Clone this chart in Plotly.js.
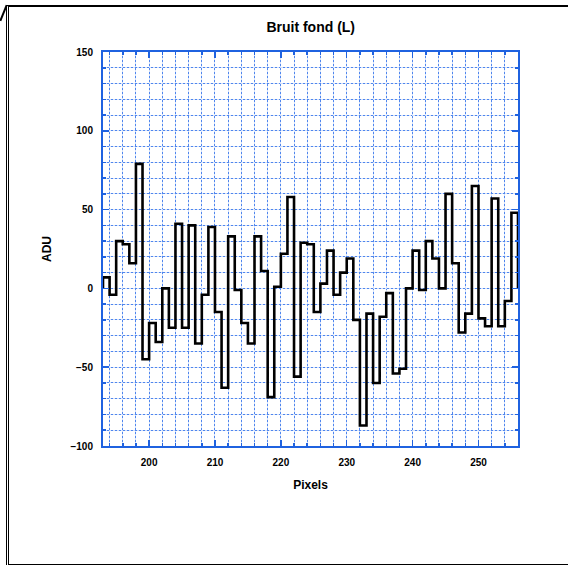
<!DOCTYPE html>
<html>
<head>
<meta charset="utf-8">
<script src="https://cdn.plot.ly/plotly-3.0.1.min.js"></script>
<style>
  html, body { margin: 0; padding: 0; background: #fff; }
  #wrap { position: relative; width: 568px; height: 565px; overflow: hidden; }
  #frame { position: absolute; left: 6px; top: 5px; width: 570px; height: 557px;
           border-left: 3px double #000; border-top: 2px solid #000; border-bottom: 2px solid #000; }
  #diag { position: absolute; left: -5px; top: 12px; width: 17px; height: 2px; background: #000;
          transform: rotate(-68deg); transform-origin: center; }
  #chart { position: absolute; left: 0; top: 0; width: 568px; height: 565px; }
</style>
</head>
<body>
<div id="wrap">
  <div id="frame"></div>
  <div id="diag"></div>
  <div id="chart"></div>
</div>
<script>
// Data
const title = "Bruit fond (L)";
const xTitle = "Pixels";
const yTitle = "ADU";
const firstPixel = 193;
const values = [
  7, -4, 30, 28, 16, 79, -45, -22, -34, 0,
  -25, 41, -25, 40, -35, -4, 39, -15, -63, 33,
  -1, -22, -35, 33, 11, -69, 1, 22, 58, -56,
  29, 28, -15, 3, 24, -4, 10, 19, -20, -87,
  -16, -60, -18, -3, -54, -51, 0, 24, -1, 30,
  19, 0, 60, 16, -28, -16, 65, -19, -24, 57,
  -24, -8, 48
];
const xTickVals = [200, 210, 220, 230, 240, 250];
const yTickVals = [-100, -50, 0, 50, 100, 150];

// Histogram-style outline: start and end at zero
const pixels = values.map((v, i) => firstPixel + i);
const lastEdge = firstPixel + values.length;
const xs = [firstPixel].concat(pixels, [lastEdge]);
const ys = [0].concat(values, [0]);
const xRange = [firstPixel, lastEdge];
const yRange = [-100, 150];

const blue = '#1f62e0';
const lightGrid = '#d3e0f8';
const dotGrid = '#4f86ee';
const fontFam = 'Liberation Sans, Arial, sans-serif';

// invisible trace keeps the base axes alive
const baseTrace = { x: [xRange[0]], y: [yRange[0]], type: 'scatter', mode: 'markers',
  marker: { opacity: 0 }, xaxis: 'x', yaxis: 'y', hoverinfo: 'skip' };

const trace = {
  x: xs, y: ys, type: 'scatter', mode: 'lines', xaxis: 'x2', yaxis: 'y2',
  line: { shape: 'hv', color: '#000', width: 2.6 },
  hoverinfo: 'skip'
};

const tickFont = { family: fontFam, size: 10, color: '#000', weight: 'bold' };
const titleFont = { family: fontFam, size: 12, color: '#000', weight: 'bold' };

const layout = {
  width: 568, height: 565,
  margin: { l: 103, r: 50, t: 52, b: 119 },
  paper_bgcolor: 'rgba(0,0,0,0)', plot_bgcolor: '#fff',
  showlegend: false,
  title: { text: title, x: 0.547, xanchor: 'center', y: 0.952, yanchor: 'middle',
           font: { family: fontFam, size: 14, color: '#000', weight: 'bold' } },
  xaxis: {
    range: xRange, tickvals: xTickVals, autorange: false,
    showline: true, linecolor: blue, linewidth: 2, mirror: 'ticks',
    ticks: 'inside', tickcolor: blue, ticklen: 6, tickwidth: 1.5,
    showgrid: true, gridcolor: lightGrid, gridwidth: 1, zeroline: false,
    minor: { dtick: 2, tick0: 0, ticks: 'inside', ticklen: 3, tickcolor: blue, showgrid: true,
             gridcolor: lightGrid, gridwidth: 1 },
    tickfont: tickFont, ticklabelstandoff: 6,
    title: { text: xTitle, standoff: 14, font: titleFont }
  },
  yaxis: {
    range: yRange, tickvals: yTickVals, autorange: false,
    showline: true, linecolor: blue, linewidth: 2, mirror: 'ticks',
    ticks: 'inside', tickcolor: blue, ticklen: 6, tickwidth: 1.5,
    showgrid: true, gridcolor: lightGrid, gridwidth: 1, zeroline: false,
    minor: { dtick: 10, tick0: 0, ticks: 'inside', ticklen: 3, tickcolor: blue, showgrid: true,
             gridcolor: lightGrid, gridwidth: 1 },
    tickfont: tickFont, ticklabelstandoff: 6,
    title: { text: yTitle, standoff: 16, font: titleFont }
  },
  xaxis2: {
    overlaying: 'x', range: xRange, autorange: false, showticklabels: false, showline: false, ticks: '',
    zeroline: false, tickvals: xTickVals, showgrid: true, gridcolor: dotGrid, gridwidth: 1, griddash: '2px,2px',
    minor: { dtick: 2, tick0: 0, showgrid: true, gridcolor: dotGrid, gridwidth: 1, griddash: '2px,2px' }
  },
  yaxis2: {
    overlaying: 'y', range: yRange, autorange: false, showticklabels: false, showline: false, ticks: '',
    zeroline: false, tickvals: yTickVals, showgrid: true, gridcolor: dotGrid, gridwidth: 1, griddash: '2px,2px',
    minor: { dtick: 10, tick0: 0, showgrid: true, gridcolor: dotGrid, gridwidth: 1, griddash: '2px,2px' }
  }
};

Plotly.newPlot('chart', [baseTrace, trace], layout, { displayModeBar: false, staticPlot: true });
</script>
</body>
</html>
